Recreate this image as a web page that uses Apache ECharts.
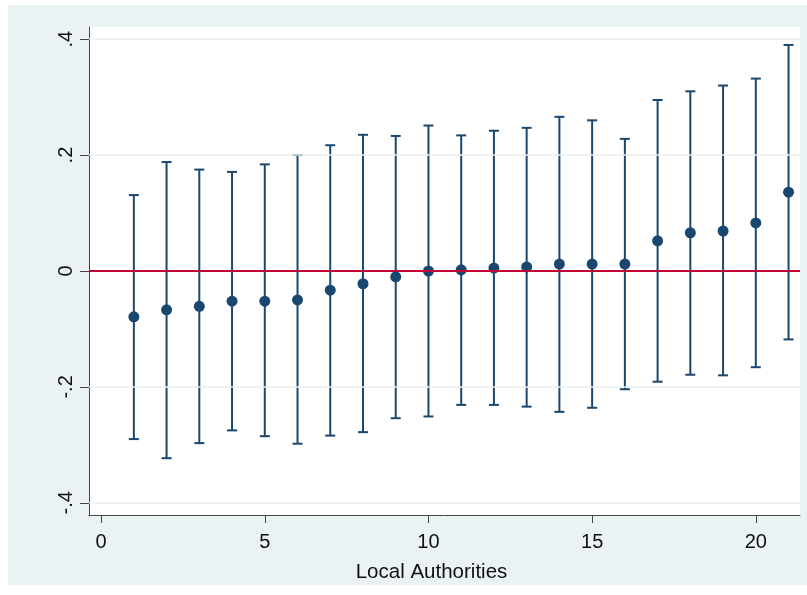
<!DOCTYPE html>
<html>
<head>
<meta charset="utf-8">
<script src="https://cdn.jsdelivr.net/npm/echarts@6/dist/echarts.min.js"></script>
<style>
html,body{margin:0;padding:0;background:#ffffff;}
#chart{width:807px;height:595px;}
</style>
</head>
<body>
<div id="chart"></div>
<script>
// ---- data ----
var authorities = [1,2,3,4,5,6,7,8,9,10,11,12,13,14,15,16,17,18,19,20,21];
var estimates = [-0.079,-0.067,-0.061,-0.052,-0.052,-0.050,-0.033,-0.022,-0.010,0.000,0.002,0.005,0.007,0.012,0.012,0.012,0.052,0.066,0.069,0.083,0.136];
var lowerCI   = [-0.290,-0.323,-0.297,-0.275,-0.285,-0.298,-0.284,-0.278,-0.254,-0.251,-0.231,-0.231,-0.234,-0.243,-0.236,-0.204,-0.191,-0.179,-0.180,-0.166,-0.118];
var upperCI   = [0.131,0.188,0.175,0.171,0.184,0.200,0.217,0.235,0.233,0.251,0.234,0.242,0.247,0.266,0.260,0.228,0.295,0.310,0.320,0.332,0.390];
var xTicks = [0,5,10,15,20];
var yTicks = [-0.4,-0.2,0,0.2,0.4];
var yTickLabels = ['-.4','-.2','0','.2','.4'];
var xTitle = 'Local Authorities';

// ---- chart ----
var navy = '#1A476F';
var chart = echarts.init(document.getElementById('chart'), null, {renderer:'canvas'});
var ciData = authorities.map(function(a,i){ return [a, lowerCI[i], upperCI[i]]; });
var ptData = authorities.map(function(a,i){ return [a, estimates[i]]; });
var labelMap = {};
yTicks.forEach(function(v,i){ labelMap[v.toFixed(1)] = yTickLabels[i]; });
var font = 'Liberation Sans, Arial, sans-serif';

chart.setOption({
  animation:false,
  backgroundColor:'#ffffff',
  graphic:[{
    type:'rect', z:-10, silent:true,
    shape:{x:8,y:5,width:799,height:580},
    style:{fill:'#EAF2F3'}
  }],
  grid:{left:89,right:7,top:27,bottom:80,show:true,backgroundColor:'#ffffff',borderWidth:0,containLabel:false},
  xAxis:{
    type:'value', min:-0.37, max:21.35,
    name:xTitle, nameLocation:'middle', nameGap:47,
    nameTextStyle:{fontFamily:font,fontSize:20.5,color:'#111',padding:[0,26,0,0]},
    axisLine:{show:true,onZero:false,lineStyle:{color:'#444',width:1}},
    axisTick:{show:true,length:8,customValues:xTicks,lineStyle:{color:'#444'}},
    axisLabel:{show:true,customValues:xTicks,margin:17,fontFamily:font,fontSize:20,color:'#111',
      formatter:function(v){return String(v);}},
    splitLine:{show:false}
  },
  yAxis:{
    type:'value', min:-0.421, max:0.421,
    axisLine:{show:true,onZero:false,lineStyle:{color:'#444',width:1}},
    axisTick:{show:true,length:9,customValues:yTicks,lineStyle:{color:'#444'}},
    axisLabel:{show:true,customValues:yTicks,rotate:90,margin:13,fontFamily:font,fontSize:20,color:'#111',
      formatter:function(v){var k=(Math.round(v*10)/10).toFixed(1); if(k==='-0.0')k='0.0'; return labelMap[k]!==undefined?labelMap[k]:String(v);}},
    splitLine:{show:false}
  },
  series:[
    {
      type:'line', data:[], silent:true, z:1,
      markLine:{
        silent:true, symbol:['none','none'], label:{show:false},
        lineStyle:{color:'#E8F0F2',width:1.5,type:'solid'},
        data:[{yAxis:0.4},{yAxis:0.2},{yAxis:-0.2},{yAxis:-0.4}]
      }
    },
    {
      type:'line', data:[], silent:true, z:2,
      markLine:{
        silent:true, symbol:['none','none'], label:{show:false},
        lineStyle:{color:'#C10534',width:1.8,type:'solid'},
        data:[{yAxis:0}]
      }
    },
    {
      type:'custom', z:3, silent:true,
      data:ciData,
      renderItem:function(params, api){
        var x = api.value(0);
        var lo = api.coord([x, api.value(1)]);
        var hi = api.coord([x, api.value(2)]);
        var hw = 5;
        var st = {stroke:navy, lineWidth:2};
        return {type:'group', children:[
          {type:'line', shape:{x1:lo[0],y1:lo[1],x2:hi[0],y2:hi[1]}, style:st},
          {type:'line', shape:{x1:lo[0]-hw,y1:lo[1],x2:lo[0]+hw,y2:lo[1]}, style:st},
          {type:'line', shape:{x1:hi[0]-hw,y1:hi[1],x2:hi[0]+hw,y2:hi[1]}, style:st}
        ]};
      }
    },
    {
      type:'scatter', z:4, silent:true,
      data:ptData, symbol:'circle', symbolSize:11,
      itemStyle:{color:navy, opacity:1}
    }
  ]
});
</script>
</body>
</html>
